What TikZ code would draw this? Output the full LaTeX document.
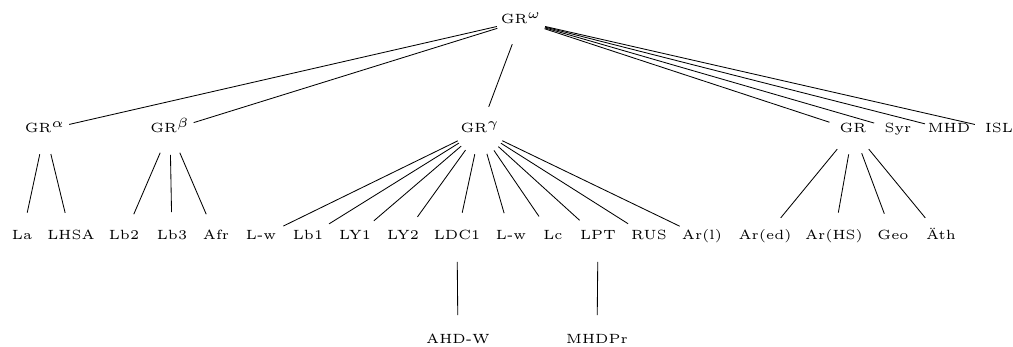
\documentclass[tikz,border=0pt]{standalone}
\usepackage{graphicx}

\newcommand{\glab}[1]{\scalebox{1.9}{\fontsize{5}{6}\selectfont #1}}

\begin{document}
\begin{tikzpicture}[x=0.025cm,y=-0.025cm,
  lab/.style={anchor=base,inner sep=0pt},
  branch/.style={line width=0.6pt,shorten <=0.62cm,shorten >=0.62cm}]

\useasboundingbox (0,0) rectangle (1013,347);

% Root
\node[lab] (gro) at (521,24) {\glab{GR$^{\omega}$}};

% First level
\node[lab] (gra) at (45,133) {\glab{GR$^{\alpha}$}};
\node[lab] (grb) at (170,133) {\glab{GR$^{\beta}$}};
\node[lab] (grc) at (480,133) {\glab{GR$^{\gamma}$}};
\node[lab] (grx) at (853,133) {\glab{GR}};
\node[lab] (syr) at (898,133) {\glab{Syr}};
\node[lab] (mhd) at (949,133) {\glab{MHD}};
\node[lab] (isl) at (999,133) {\glab{ISL}};

% Leaves
\foreach \x/\n/\t in {22/la/La, 71/lhsa/LHSA, 124/lb2/Lb2, 172/lb3/Lb3, 216/afr/Afr,
                      261/lwa/L-w, 308/lb1/Lb1, 355/ly1/LY1, 403/ly2/LY2, 457/ldc/LDC1,
                      511/lwb/L-w, 553/lc/Lc, 598/lpt/LPT, 649/rus/RUS, 702/arl/Ar(l),
                      765/ared/Ar(ed), 834/arhs/Ar(HS), 893/geo/Geo, 941/aeth/Äth}
  \node[lab] (\n) at (\x,240) {\glab{\t}};

% Bottom level
\node[lab] (ahdw) at (458,343) {\glab{AHD-W}};
\node[lab] (mhdpr) at (597,343) {\glab{MHDPr}};

% Branches
\foreach \p/\c in {gro/gra, gro/grb, gro/grc, gro/grx, gro/syr, gro/mhd, gro/isl,
                   gra/la, gra/lhsa, grb/lb2, grb/lb3, grb/afr,
                   grc/lwa, grc/lb1, grc/ly1, grc/ly2, grc/ldc, grc/lwb, grc/lc, grc/lpt, grc/rus, grc/arl,
                   grx/ared, grx/arhs, grx/geo, grx/aeth,
                   ldc/ahdw, lpt/mhdpr}
  \draw[branch] (\p.mid) -- (\c.mid);

\end{tikzpicture}
\end{document}
